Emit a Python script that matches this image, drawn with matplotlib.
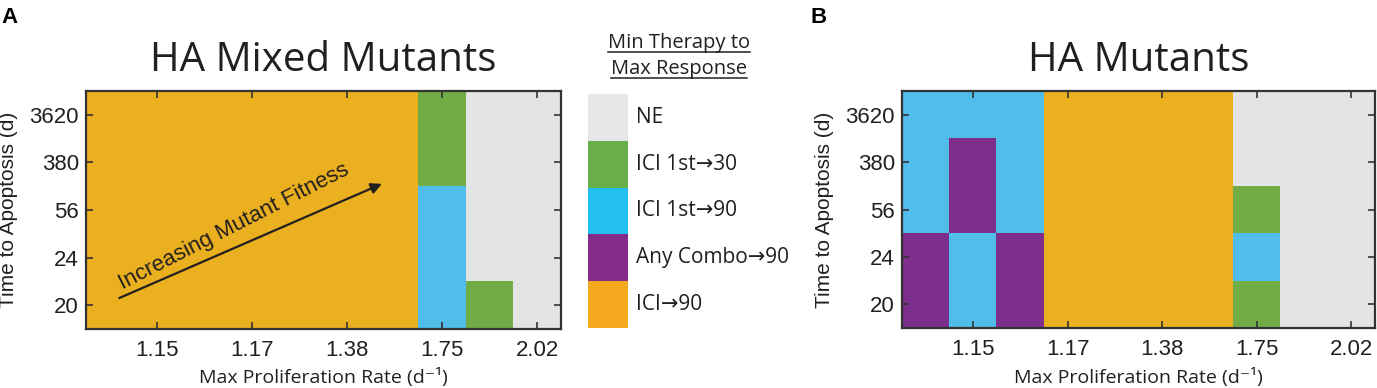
import matplotlib
matplotlib.use("Agg")
import matplotlib.pyplot as plt
import numpy as np
from matplotlib.colors import ListedColormap

# ---- data ----
categories = ["NE", "ICI 1st\u219230", "ICI 1st\u219290", "Any Combo\u219290", "ICI\u219290"]
map_colors = ["#E4E4E4", "#72AC46", "#50BDEA", "#7E2F8C", "#EBB01F"]
legend_colors = ["#E6E7E8", "#69B04A", "#22BFEF", "#852B8A", "#F5A91F"]

x_tick_pos = [1, 3, 5, 7, 9]
x_tick_labels = ["1.15", "1.17", "1.38", "1.75", "2.02"]
y_tick_labels = ["3620", "380", "56", "24", "20"]

mixed_mutants = [
    [4, 4, 4, 4, 4, 4, 4, 1, 0, 0],
    [4, 4, 4, 4, 4, 4, 4, 1, 0, 0],
    [4, 4, 4, 4, 4, 4, 4, 2, 0, 0],
    [4, 4, 4, 4, 4, 4, 4, 2, 0, 0],
    [4, 4, 4, 4, 4, 4, 4, 2, 1, 0],
]
mutants = [
    [2, 2, 2, 4, 4, 4, 4, 0, 0, 0],
    [2, 3, 2, 4, 4, 4, 4, 0, 0, 0],
    [2, 3, 2, 4, 4, 4, 4, 1, 0, 0],
    [3, 2, 3, 4, 4, 4, 4, 2, 0, 0],
    [3, 2, 3, 4, 4, 4, 4, 1, 0, 0],
]

MYRIAD = ["Open Sans", "DejaVu Sans"]
ARIAL = ["Liberation Sans", "DejaVu Sans"]
TXT = "#231F20"

W, H = 1377, 388
fig = plt.figure(figsize=(W / 100, H / 100), dpi=100)

def px_axes(x0, y0, x1, y1):
    return fig.add_axes([x0 / W, 1 - y1 / H, (x1 - x0) / W, (y1 - y0) / H])

cmap = ListedColormap(map_colors)

def heat(ax, grid, title, x0, x1, y0, y1):
    ax.imshow(np.array(grid), cmap=cmap, vmin=-0.5, vmax=len(map_colors) - 0.5,
              aspect="auto", interpolation="nearest")
    ax.set_xticks(x_tick_pos)
    ax.set_xticklabels(x_tick_labels, fontfamily=ARIAL, fontsize=16, color=TXT)
    ax.set_yticks(range(len(y_tick_labels)))
    ax.set_yticklabels(y_tick_labels, fontfamily=ARIAL, fontsize=16, color=TXT)
    ax.tick_params(direction="in", top=True, right=True, length=5, width=1.2,
                   color="#333333")
    ax.tick_params(axis="x", pad=8)
    ax.tick_params(axis="y", pad=5)
    for s in ax.spines.values():
        s.set_linewidth(1.6)
        s.set_color("#333333")
    w, h = x1 - x0, y1 - y0
    ax.set_xlabel("Max Proliferation Rate (d\u207b\u00b9)", fontfamily=MYRIAD,
                  fontsize=14, color=TXT)
    ax.xaxis.set_label_coords(0.5, -(378 - y1) / h)
    ax.xaxis.label.set_va("center")
    ax.set_ylabel("Time to Apoptosis (d)", fontfamily=ARIAL, fontsize=15, color=TXT)
    ax.yaxis.set_label_coords(-77 / w, 0.5)
    ax.yaxis.label.set_va("center")
    ax.text(0.5, 1 + 20 / h, title, transform=ax.transAxes, ha="center",
            va="baseline", fontfamily=MYRIAD, fontsize=29, color=TXT)

axA = px_axes(86, 91, 561, 329)
heat(axA, mixed_mutants, "HA Mixed Mutants", 86, 561, 91, 329)
axA.annotate("", xy=(0.623, 0.61), xytext=(0.07, 0.13), xycoords="axes fraction",
             arrowprops=dict(arrowstyle="-|>", color="#231F20", lw=1.6,
                             mutation_scale=16, shrinkA=0, shrinkB=0))
axA.text(0.316, 0.41, "Increasing Mutant Fitness", transform=axA.transAxes,
         rotation=27, rotation_mode="anchor", ha="center", va="baseline",
         fontfamily=ARIAL, fontsize=16, color="#231F20")

axB = px_axes(902, 91, 1375, 328)
heat(axB, mutants, "HA Mutants", 902, 1375, 91, 328)

# legend
axL = px_axes(588, 94, 628, 328)
n = len(categories)
axL.imshow(np.arange(n)[:, None], cmap=ListedColormap(legend_colors),
           aspect="auto", interpolation="nearest", vmin=-0.5, vmax=n - 0.5)
axL.set_axis_off()
for i, lab in enumerate(categories):
    axL.text(1.2, 1 - (i + 0.5) / n, lab, transform=axL.transAxes, ha="left",
             va="center", fontfamily=MYRIAD, fontsize=15, color=TXT)

t1 = fig.text(679 / W, 1 - 48 / H, "Min Therapy to", ha="center", va="baseline",
              fontfamily=MYRIAD, fontsize=14.5, color=TXT)
t2 = fig.text(679 / W, 1 - 74 / H, "Max Response", ha="center", va="baseline",
              fontfamily=MYRIAD, fontsize=14.5, color=TXT)
fig.canvas.draw()
for t, yb in ((t1, 51.5), (t2, 78)):
    bb = t.get_window_extent()
    fig.add_artist(plt.Line2D([bb.x0 / W, bb.x1 / W], [1 - yb / H, 1 - yb / H],
                              color=TXT, lw=1.1, transform=fig.transFigure))

fig.text(1 / W, 1 - 23 / H, "A", fontfamily=ARIAL, fontweight="bold", fontsize=16,
         color="black", va="baseline", ha="left")
fig.text(811 / W, 1 - 23 / H, "B", fontfamily=ARIAL, fontweight="bold", fontsize=16,
         color="black", va="baseline", ha="left")

fig.savefig("out.png", dpi=100)
